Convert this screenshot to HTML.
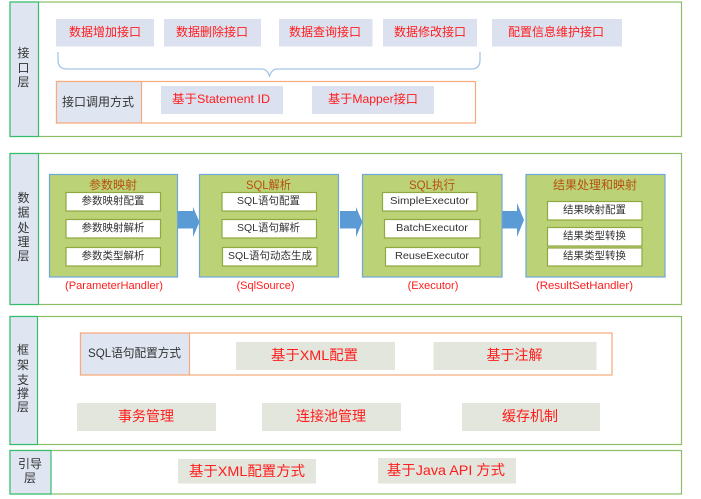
<!DOCTYPE html>
<html>
<head>
<meta charset="utf-8">
<style>
html,body{margin:0;padding:0;background:#fff;width:701px;height:499px;overflow:hidden}
svg{display:block;filter:blur(0.35px)}
text{font-family:"Liberation Sans","Noto Sans CJK SC",sans-serif;text-anchor:middle;dominant-baseline:central}
.r{fill:#ff1c1c;font-size:12px}
.r14{fill:#ff1c1c;font-size:14px}
.d{fill:#333;font-size:12px}
.k{fill:#333;font-size:10.5px}
.t{fill:#b5520f;font-size:12px}
.p{fill:#ff1c1c;font-size:11px}
.outer{fill:#fff;stroke:#8cbf63;stroke-width:1.2}
.lab{fill:#dfe6f2;stroke:#34bd6e;stroke-width:1.2}
.bl{fill:#dce1ef}
.gr{fill:#e3e6dc}
.or{fill:#fff;stroke:#f7ab7a;stroke-width:1.2}
.ol{fill:#dfe6f2;stroke:#f7ab7a;stroke-width:1.2}
.g{fill:#bcd277;stroke:#6fa6d8;stroke-width:1.2}
.w{fill:#fff;stroke:#8fa83f;stroke-width:1.2}
.a{fill:#5b9bd5}
</style>
</head>
<body>
<svg width="701" height="499" viewBox="0 0 701 499" xmlns="http://www.w3.org/2000/svg">
<!-- Layer 1 -->
<rect class="outer" x="10" y="2" width="671.5" height="134.5"/>
<rect class="lab" x="10" y="2" width="28.5" height="134.5"/>
<text class="d" x="23.5" y="53">接</text><text class="d" x="23.5" y="68">口</text><text class="d" x="23.5" y="82">层</text>
<rect class="bl" x="56" y="19" width="98" height="27.5"/><text class="r" x="105" y="32">数据增加接口</text>
<rect class="bl" x="164" y="19" width="97" height="27.5"/><text class="r" x="212" y="32">数据删除接口</text>
<rect class="bl" x="279" y="19" width="93.5" height="27.5"/><text class="r" x="325" y="32">数据查询接口</text>
<rect class="bl" x="383" y="19" width="94" height="27.5"/><text class="r" x="430" y="32">数据修改接口</text>
<rect class="bl" x="492" y="19" width="130" height="27.5"/><text class="r" x="556" y="32">配置信息维护接口</text>
<path d="M58 52 V60 Q58 69 67 69 H262 Q267 69 269.5 76 Q272 69 277 69 H471 Q480 69 480 60 V52" fill="none" stroke="#a4c5e6" stroke-width="1.3"/>
<rect class="or" x="56.5" y="81.5" width="419" height="41.5"/>
<rect class="ol" x="56.5" y="81.5" width="85" height="41.5"/>
<text class="d" x="98" y="102">接口调用方式</text>
<rect class="bl" x="161" y="86" width="122" height="28"/><text class="r" x="221" y="99" textLength="98" lengthAdjust="spacingAndGlyphs">基于Statement ID</text>
<rect class="bl" x="312" y="86" width="122" height="28"/><text class="r" x="373" y="99" textLength="90" lengthAdjust="spacingAndGlyphs">基于Mapper接口</text>

<!-- Layer 2 -->
<rect class="outer" x="10" y="153.5" width="671.5" height="151"/>
<rect class="lab" x="10" y="153.5" width="28.5" height="151"/>
<text class="d" x="23.5" y="198">数</text><text class="d" x="23.5" y="212.5">据</text><text class="d" x="23.5" y="228">处</text><text class="d" x="23.5" y="242">理</text><text class="d" x="23.5" y="256">层</text>

<path class="a" d="M177 211 H193 V207 L199.5 222 L193 237 V228.5 H177 Z"/>
<path class="a" d="M340 211 H356 V207 L362.5 222 L356 237 V228.5 H340 Z"/>
<path class="a" d="M502 211 H517 V203 L524 220 L517 237 V228.5 H502 Z"/>

<rect class="g" x="49.5" y="174.5" width="128" height="102.5"/>
<text class="t" x="113" y="185">参数映射</text>
<rect class="w" x="66" y="192.5" width="94.5" height="18.5"/><text class="k" x="113" y="201">参数映射配置</text>
<rect class="w" x="66" y="219.5" width="94.5" height="18.5"/><text class="k" x="113" y="228">参数映射解析</text>
<rect class="w" x="66" y="247.5" width="94.5" height="18.5"/><text class="k" x="113" y="256">参数类型解析</text>

<rect class="g" x="199.5" y="174.5" width="139" height="102.5"/>
<text class="t" x="268.5" y="185" textLength="45" lengthAdjust="spacingAndGlyphs">SQL解析</text>
<rect class="w" x="222" y="192.5" width="94.5" height="18.5"/><text class="k" x="268.5" y="201">SQL语句配置</text>
<rect class="w" x="222" y="219.5" width="94.5" height="18.5"/><text class="k" x="268.5" y="228">SQL语句解析</text>
<rect class="w" x="222.5" y="247.5" width="94.5" height="18.5"/><text class="k" x="270" y="256">SQL语句动态生成</text>

<rect class="g" x="362.5" y="174.5" width="139.5" height="102.5"/>
<text class="t" x="432" y="185" textLength="46" lengthAdjust="spacingAndGlyphs">SQL执行</text>
<rect class="w" x="382.5" y="192.5" width="94.5" height="18.5"/><text class="k" x="429.5" y="201" textLength="79" lengthAdjust="spacingAndGlyphs">SimpleExecutor</text>
<rect class="w" x="384.5" y="219.5" width="95.5" height="18.5"/><text class="k" x="432" y="228" textLength="72" lengthAdjust="spacingAndGlyphs">BatchExecutor</text>
<rect class="w" x="385.5" y="247.5" width="94.5" height="18.5"/><text class="k" x="432" y="256" textLength="74" lengthAdjust="spacingAndGlyphs">ReuseExecutor</text>

<rect class="g" x="526" y="174.5" width="139" height="102.5"/>
<text class="t" x="595" y="185">结果处理和映射</text>
<rect class="w" x="547.5" y="201.5" width="94.5" height="18.5"/><text class="k" x="594.5" y="210">结果映射配置</text>
<rect class="w" x="547.5" y="227.5" width="94.5" height="18.5"/><text class="k" x="594.5" y="236">结果类型转换</text>
<rect class="w" x="547.5" y="248" width="94.5" height="18"/><text class="k" x="594.5" y="256">结果类型转换</text>

<text class="p" x="114" y="286" textLength="98" lengthAdjust="spacingAndGlyphs">(ParameterHandler)</text>
<text class="p" x="265.5" y="286">(SqlSource)</text>
<text class="p" x="433" y="286">(Executor)</text>
<text class="p" x="584.5" y="286" textLength="97" lengthAdjust="spacingAndGlyphs">(ResultSetHandler)</text>

<!-- Layer 3 -->
<rect class="outer" x="10" y="316.5" width="671.5" height="128"/>
<rect class="lab" x="10" y="316.5" width="27.5" height="128"/>
<text class="d" x="23" y="350">框</text><text class="d" x="23" y="365">架</text><text class="d" x="23" y="380">支</text><text class="d" x="23" y="393.5">撑</text><text class="d" x="23" y="407">层</text>
<rect class="or" x="80.5" y="333" width="531.5" height="42"/>
<rect class="ol" x="80.5" y="333" width="109" height="42"/>
<text class="d" x="134.5" y="353" textLength="93" lengthAdjust="spacingAndGlyphs">SQL语句配置方式</text>
<rect class="gr" x="236" y="342" width="159" height="28"/><text class="r14" x="314.5" y="355" textLength="87" lengthAdjust="spacingAndGlyphs">基于XML配置</text>
<rect class="gr" x="433.5" y="342" width="163" height="28"/><text class="r14" x="514.5" y="355">基于注解</text>
<rect class="gr" x="77" y="403" width="139" height="28"/><text class="r14" x="146" y="416">事务管理</text>
<rect class="gr" x="262" y="403" width="139" height="28"/><text class="r14" x="331" y="416">连接池管理</text>
<rect class="gr" x="462" y="403" width="138" height="28"/><text class="r14" x="530" y="416">缓存机制</text>

<!-- Layer 4 -->
<rect class="outer" x="10" y="450.5" width="671.5" height="43.5"/>
<rect class="lab" x="10" y="450.5" width="41" height="43.5"/>
<text class="d" x="30" y="464">引导</text><text class="d" x="30" y="478">层</text>
<rect class="gr" x="178" y="459" width="138" height="24.5"/><text class="r14" x="247" y="471" textLength="116" lengthAdjust="spacingAndGlyphs">基于XML配置方式</text>
<rect class="gr" x="378" y="458" width="138" height="25.5"/><text class="r14" x="446" y="470" textLength="118" lengthAdjust="spacingAndGlyphs">基于Java API 方式</text>
</svg>
</body>
</html>
